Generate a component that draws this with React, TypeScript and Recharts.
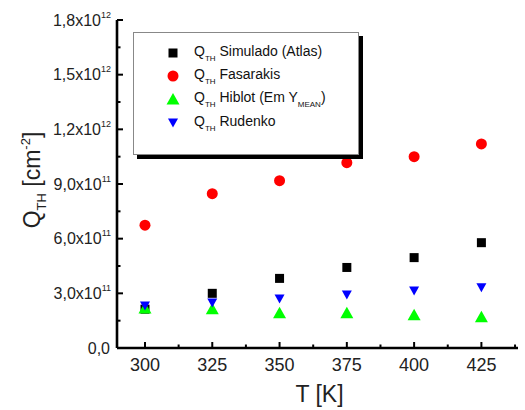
import { Legend, Scatter, ScatterChart, XAxis, YAxis } from "recharts";

const temps = [300, 325, 350, 375, 400, 425];
const simulado = [2.13e11, 3.0e11, 3.82e11, 4.42e11, 4.96e11, 5.78e11];
const fasarakis = [6.74e11, 8.47e11, 9.18e11, 10.17e11, 10.5e11, 11.2e11];
const hiblot = [2.2e11, 2.15e11, 1.93e11, 1.94e11, 1.82e11, 1.72e11];
const rudenko = [2.3e11, 2.47e11, 2.69e11, 2.91e11, 3.13e11, 3.31e11];

const xTicks = [300, 312.5, 325, 337.5, 350, 362.5, 375, 387.5, 400, 412.5, 425, 437.5];
const yTicks = [0, 1.5e11, 3e11, 4.5e11, 6e11, 7.5e11, 9e11, 10.5e11, 12e11, 13.5e11, 15e11, 16.5e11, 18e11];

const FONT = "'Liberation Sans', Arial, sans-serif";

const toRows = (ys: number[]) => temps.map((t, i) => ({ t, q: ys[i] }));

type Sym = "square" | "circle" | "up" | "down";

function Marker({ cx, cy, sym, color }: { cx: number; cy: number; sym: Sym; color: string }) {
  if (sym === "square") return <rect x={cx - 4.5} y={cy - 4.5} width={9} height={9} fill={color} />;
  if (sym === "circle") return <circle cx={cx} cy={cy} r={5.5} fill={color} />;
  if (sym === "up")
    return <polygon points={`${cx - 6.5},${cy + 5.5} ${cx + 6.5},${cy + 5.5} ${cx},${cy - 6}`} fill={color} />;
  return <polygon points={`${cx - 5},${cy - 4.5} ${cx + 5},${cy - 4.5} ${cx},${cy + 4.5}`} fill={color} />;
}

const series = [
  { key: "sim", name: "Simulado (Atlas)", data: toRows(simulado), color: "#000000", sym: "square" as Sym },
  { key: "fas", name: "Fasarakis", data: toRows(fasarakis), color: "#ff0000", sym: "circle" as Sym },
  { key: "hib", name: "Hiblot (Em Y", sub: "MEAN", tail: ")", data: toRows(hiblot), color: "#00ff00", sym: "up" as Sym },
  { key: "rud", name: "Rudenko", data: toRows(rudenko), color: "#0000ff", sym: "down" as Sym },
];

const isMajorY = (v: number) => Math.round(v / 1.5e11) % 2 === 0;
const isMajorX = (v: number) => v % 25 === 0;

function LeftTick(props: any) {
  const { x, y, payload } = props;
  const v = payload.value as number;
  const major = isMajorY(v);
  let label = null;
  if (major) {
    if (v === 0) {
      label = (
        <text x={x - 7} y={y + 5.5} textAnchor="end" fontSize={16} fill="#222" fontFamily={FONT}>
          0,0
        </text>
      );
    } else {
      const exp = Math.floor(Math.log10(v) + 1e-9);
      const man = (v / Math.pow(10, exp)).toFixed(1).replace(".", ",");
      label = (
        <text x={x - 6} y={y + 5.5} textAnchor="end" fontSize={16} fill="#222" fontFamily={FONT}>
          {man}x10
          <tspan fontSize={9} dy={-8}>
            {exp}
          </tspan>
        </text>
      );
    }
  }
  return (
    <g>
      <line x1={x} y1={y} x2={x + (major ? 6 : 3.5)} y2={y} stroke="#000" strokeWidth={2} />
      {label}
    </g>
  );
}

function RightTick(props: any) {
  const { x, y, payload } = props;
  const major = isMajorY(payload.value);
  return <line x1={x} y1={y} x2={x - (major ? 6 : 3.5)} y2={y} stroke="#000" strokeWidth={2} />;
}

function BottomTick(props: any) {
  const { x, y, payload } = props;
  const v = payload.value as number;
  const major = isMajorX(v);
  return (
    <g>
      <line x1={x} y1={y} x2={x} y2={y - (major ? 6 : 3.5)} stroke="#000" strokeWidth={2} />
      {major && (
        <text x={x} y={y + 22.5} textAnchor="middle" fontSize={18} fill="#222" fontFamily={FONT}>
          {v}
        </text>
      )}
    </g>
  );
}

function TopTick(props: any) {
  const { x, y, payload } = props;
  const major = isMajorX(payload.value);
  return <line x1={x} y1={y} x2={x} y2={y + (major ? 6 : 3.5)} stroke="#000" strokeWidth={2} />;
}

function XTitle(props: any) {
  const { x, width, y, height } = props.viewBox;
  return (
    <text x={x + width / 2 + 2} y={y + height - 8} textAnchor="middle" fontSize={23} fill="#222" fontFamily={FONT}>
      T [K]
    </text>
  );
}

function YTitle(props: any) {
  const { y, height } = props.viewBox;
  const cx = 40;
  const cy = y + height / 2 - 4;
  return (
    <text
      x={cx}
      y={cy}
      transform={`rotate(-90, ${cx}, ${cy})`}
      textAnchor="middle"
      fontSize={23}
      fill="#222"
      fontFamily={FONT}
    >
      Q
      <tspan fontSize={13} dy={6}>
        TH
      </tspan>
      <tspan dy={-6}> [cm</tspan>
      <tspan fontSize={13} dy={-10}>
        -2
      </tspan>
      <tspan dy={10}>]</tspan>
    </text>
  );
}

function LegendBox() {
  return (
    <div
      style={{
        width: 224,
        height: 113,
        border: "1px solid #888",
        boxShadow: "4px 4px 0 #000",
        background: "#fff",
        boxSizing: "content-box",
        paddingTop: 8,
        fontFamily: FONT,
        fontSize: 14,
        color: "#111",
      }}
    >
      {series.map((s) => (
        <div key={s.key} style={{ display: "flex", alignItems: "center", height: 23.4 }}>
          <svg width={16} height={16} style={{ marginLeft: 31 }}>
            <Marker cx={8} cy={8} sym={s.sym} color={s.color} />
          </svg>
          <span style={{ marginLeft: 13, whiteSpace: "nowrap" }}>
            Q<sub style={{ fontSize: 8, verticalAlign: -5 }}>TH</sub> {s.name}
            {s.sub && <sub style={{ fontSize: 8, verticalAlign: -5 }}>{s.sub}</sub>}
            {s.tail}
          </span>
        </div>
      ))}
    </div>
  );
}

export default function App() {
  return (
    <div style={{ position: "absolute", left: 0, top: 0, width: 525, height: 410, background: "#fff" }}>
      <ScatterChart width={525} height={410} margin={{ top: 20, right: 7, bottom: 0, left: 0 }}>
        <XAxis
          dataKey="t"
          type="number"
          domain={[289.6, 438.6]}
          ticks={xTicks}
          interval={0}
          allowDataOverflow
          height={62}
          tickSize={0}
          tickMargin={0}
          tickLine={false}
          tick={<BottomTick />}
          axisLine={{ stroke: "#000", strokeWidth: 2.6 }}
          label={<XTitle />}
        />
        <XAxis
          xAxisId="top"
          orientation="top"
          type="number"
          domain={[289.6, 438.6]}
          ticks={xTicks}
          interval={0}
          allowDataOverflow
          height={0}
          tickSize={0}
          tickMargin={0}
          tickLine={false}
          tick={<TopTick />}
          axisLine={{ stroke: "#000", strokeWidth: 2.6 }}
        />
        <YAxis
          dataKey="q"
          type="number"
          domain={[0, 1.8e12]}
          ticks={yTicks}
          interval={0}
          allowDataOverflow
          width={117}
          tickSize={0}
          tickMargin={0}
          tickLine={false}
          tick={<LeftTick />}
          axisLine={{ stroke: "#000", strokeWidth: 2.6 }}
          label={<YTitle />}
        />
        <YAxis
          yAxisId="right"
          orientation="right"
          type="number"
          domain={[0, 1.8e12]}
          ticks={yTicks}
          interval={0}
          allowDataOverflow
          width={0}
          tickSize={0}
          tickMargin={0}
          tickLine={false}
          tick={<RightTick />}
          axisLine={{ stroke: "#000", strokeWidth: 2.6 }}
        />
        <Legend
          layout="vertical"
          align="center"
          verticalAlign="middle"
          content={() => <LegendBox />}
          wrapperStyle={{ left: 133, top: 32, width: "auto", height: "auto" }}
        />
        {series.map((s) => (
          <Scatter
            key={s.key}
            name={s.name}
            data={s.data}
            fill={s.color}
            isAnimationActive={false}
            shape={(p: any) => <Marker cx={p.cx} cy={p.cy} sym={s.sym} color={s.color} />}
          />
        ))}
      </ScatterChart>
    </div>
  );
}
